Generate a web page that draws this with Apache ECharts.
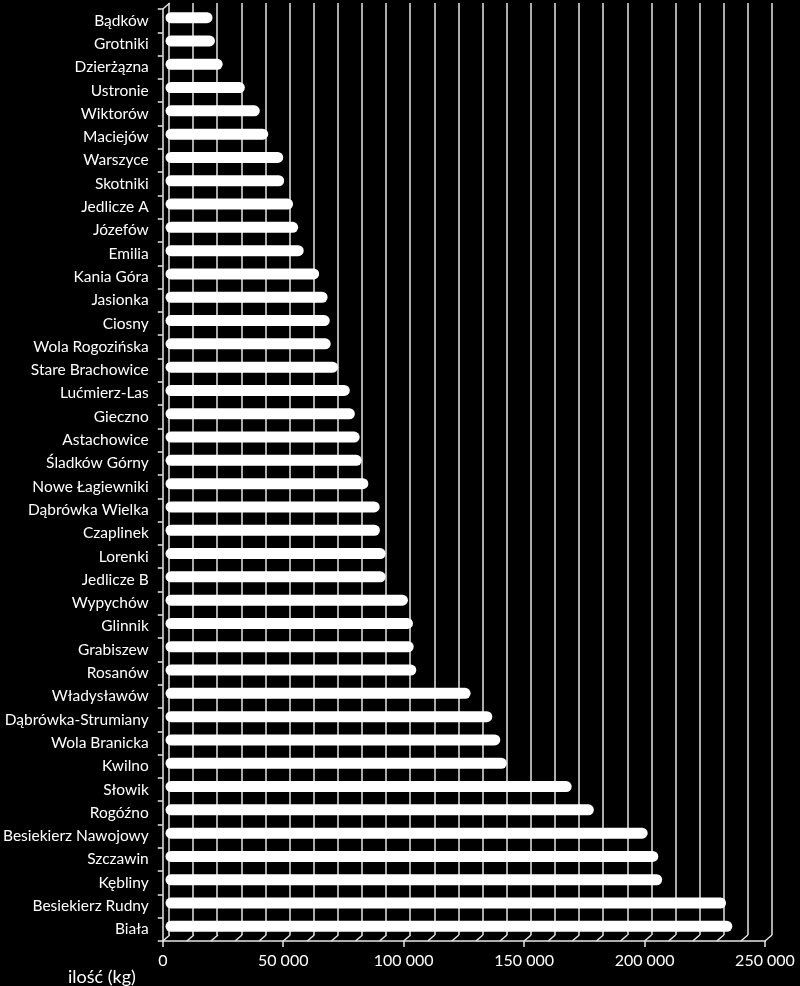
<!DOCTYPE html>
<html>
<head>
<meta charset="utf-8">
<script src="https://cdn.jsdelivr.net/npm/echarts@6/dist/echarts.min.js"></script>
<style>
html,body{margin:0;padding:0;background:#000;}
#chart{width:800px;height:986px;}
</style>
</head>
<body>
<div id="chart"></div>
<script>
const categories = ["Bądków","Grotniki","Dzierżązna","Ustronie","Wiktorów","Maciejów","Warszyce","Skotniki","Jedlicze A","Józefów","Emilia","Kania Góra","Jasionka","Ciosny","Wola Rogozińska","Stare Brachowice","Lućmierz-Las","Gieczno","Astachowice","Śladków Górny","Nowe Łagiewniki","Dąbrówka Wielka","Czaplinek","Lorenki","Jedlicze B","Wypychów","Glinnik","Grabiszew","Rosanów","Władysławów","Dąbrówka-Strumiany","Wola Branicka","Kwilno","Słowik","Rogóźno","Besiekierz Nawojowy","Szczawin","Kębliny","Besiekierz Rudny","Biała"];
const values = [19500,20500,23700,32900,39100,42600,48800,49200,52900,55000,57300,63700,67200,68100,68500,71600,76400,78500,80500,81400,84100,88800,88900,91300,91300,100500,102600,102900,104000,126500,135500,138800,141500,168400,177600,199900,204300,205900,232400,235000];
const floorTicks = [0,10000,20000,30000,40000,50000,60000,70000,80000,90000,100000,110000,120000,130000,140000,150000,160000,170000,180000,190000,200000,210000,220000,230000,240000,250000];
const axisMax = 250000;
const gridInterval = 10000;
const labelInterval = 50000;
const axisTitle = "ilość (kg)";

const DX = 7, DY = 6;
const lineColor = '#e6e6e6';
const font = 'Lato, "Open Sans", sans-serif';

const chart = echarts.init(document.getElementById('chart'), null, {renderer:'canvas'});
const fmt = v => String(v).replace(/\B(?=(\d{3})+(?!\d))/g, ' ');

chart.setOption({
  backgroundColor: '#000',
  animation: false,
  title: {
    text: axisTitle, left: 63, top: 963,
    textStyle: {color: '#fff', fontSize: 18, fontWeight: 'normal', fontFamily: font}
  },
  grid: [
    {left: 162 + DX, right: 35 - DX, top: 9 - DY, bottom: 45 + DY},
    {left: 162 + DX/2, right: 35 - DX/2, top: 9 - DY/2, bottom: 45 + DY/2},
    {left: 162, right: 35, top: 9, bottom: 45}
  ],
  xAxis: [
    {gridIndex: 0, type: 'value', min: 0, max: axisMax, interval: gridInterval,
     axisLine: {show: false}, axisTick: {show: false}, axisLabel: {show: false},
     splitLine: {show: true, lineStyle: {color: lineColor, width: 1.5}}},
    {gridIndex: 1, type: 'value', min: 0, max: axisMax, show: false},
    {gridIndex: 2, type: 'value', min: 0, max: axisMax, interval: labelInterval,
     axisLine: {show: true, lineStyle: {color: lineColor, width: 1.5}},
     axisTick: {show: true, length: 6, lineStyle: {color: lineColor, width: 1.5}},
     axisLabel: {color: '#fff', fontSize: 16, fontFamily: font, margin: 12, formatter: fmt},
     splitLine: {show: false}}
  ],
  yAxis: [
    {gridIndex: 0, type: 'category', data: categories, inverse: true, show: false},
    {gridIndex: 1, type: 'category', data: categories, inverse: true, show: false},
    {gridIndex: 2, type: 'category', data: categories, inverse: true,
     axisLine: {show: true, lineStyle: {color: lineColor, width: 1.5}},
     axisTick: {show: true, length: 5, lineStyle: {color: lineColor, width: 1.5}},
     axisLabel: {color: '#fff', fontSize: 15.5, fontFamily: font, margin: 14, interval: 0},
     splitLine: {show: false}}
  ],
  series: [
    {
      type: 'bar', xAxisIndex: 1, yAxisIndex: 1, data: values, barWidth: 11,
      itemStyle: {color: '#ffffff', borderRadius: 5.5}
    },
    {
      type: 'custom', xAxisIndex: 2, yAxisIndex: 2, data: floorTicks, clip: false, silent: true,
      encode: {x: 0},
      renderItem: function (params, api) {
        const cs = params.coordSys;
        const v = api.value(0);
        const x = api.coord([v, categories[0]])[0];
        const yb = cs.y + cs.height;
        const style = {stroke: lineColor, lineWidth: 1.5};
        const children = [
          {type: 'line', shape: {x1: x, y1: yb, x2: x + DX, y2: yb - DY}, style: style}
        ];
        if (params.dataIndex === 0) {
          children.push({type: 'line', shape: {x1: cs.x, y1: cs.y, x2: cs.x + DX, y2: cs.y - DY}, style: style});
        }
        return {type: 'group', children: children};
      }
    }
  ]
});
</script>
</body>
</html>
